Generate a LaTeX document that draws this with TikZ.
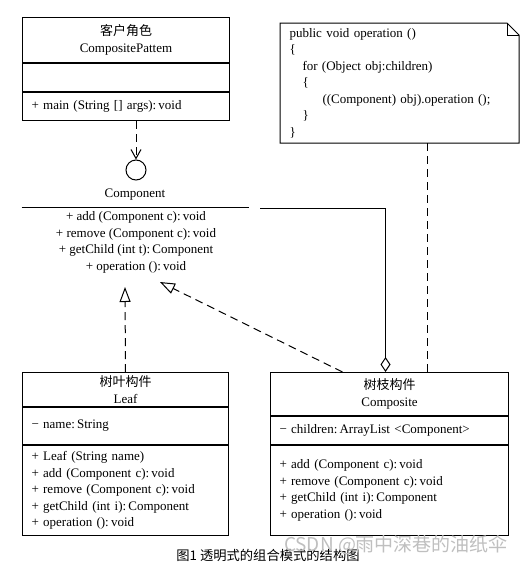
\documentclass[tikz,border=0pt]{standalone}
\usepackage{fontspec}
\setmainfont{Liberation Serif}
\newfontfamily\cjk{Noto Sans CJK SC}
\usetikzlibrary{arrows.meta}

\tikzset{
    umltext/.style={font=\fontsize{13}{16.5}\selectfont},
    headbox/.style={draw, umltext, anchor=north west, align=center, inner sep=0pt},
    listbox/.style={draw, umltext, anchor=north west, align=left, inner xsep=9pt, inner ysep=0pt},
    depend/.style={dash pattern=on 8pt off 5pt, -{Straight Barb[length=9pt,width=10pt]}},
    realize/.style={dash pattern=on 8pt off 5pt, -{Triangle[open,length=15pt,width=11pt]}},
    aggr/.style={-{Diamond[open,length=15pt,width=10pt]}},
    notelink/.style={dash pattern=on 8pt off 5pt}
}

\begin{document}
\begin{tikzpicture}[x=1pt, y=-1pt, line width=1pt]
                \useasboundingbox (0,0) rectangle (529,565);

                % Client class
                \node[headbox, minimum width=207pt, minimum height=45pt] (clienthead) at (22,17) {{\cjk 客户角色}\\CompositePattem};
                \node[listbox, minimum width=207pt, minimum height=28pt, text width=189pt] (clientattr) at (clienthead.south west) {};
                \node[listbox, minimum width=207pt, minimum height=28pt, text width=189pt] (clientops) at (clientattr.south west) {+ main (String [] args):\,void};

                % Component interface
                \node[circle, draw, minimum size=20pt, inner sep=0pt] (iface) at (136,170) {};
                \node[umltext, minimum width=226pt, minimum height=24pt, inner sep=0pt] (compname) at (135,195) {Component};
                \draw (compname.south west) -- (compname.south east);
                \node[umltext, align=center, inner sep=0pt] (compops) at (136,242.5) {+ add (Component c):\,void\\+ remove (Component c):\,void\\+ getChild (int t):\,Component\\+ operation ():\,void};
                \coordinate (leaftip) at (125,287);
                \coordinate (comptip) at (160,282);
                \coordinate (aggstart) at (260,208);

                % Note
                \node[umltext, anchor=north west, align=left, minimum width=238pt, minimum height=119pt, text width=220pt, inner xsep=9pt, inner ysep=0pt] (note) at (280,23)
                    {public void operation ()\\\{\\\hspace*{13pt}for (Object obj:children)\\\hspace*{13pt}\{\\\hspace*{33pt}((Component) obj).operation ();\\\hspace*{13pt}\}\\\}};
                \draw (note.north west) -- ([xshift=-12pt]note.north east) -- ([yshift=-12pt]note.north east) -- (note.south east) -- (note.south west) -- cycle;
                \draw ([xshift=-12pt]note.north east) -- ([xshift=-12pt,yshift=-12pt]note.north east) -- ([yshift=-12pt]note.north east);

                % Leaf class
                \node[headbox, minimum width=206pt, minimum height=34pt] (leafhead) at (22,372) {{\cjk 树叶构件}\\Leaf};
                \node[listbox, minimum width=206pt, minimum height=37pt, text width=188pt] (leafattr) at (leafhead.south west) {− name:\,String};
                \node[listbox, minimum width=206pt, minimum height=90pt, text width=188pt] (leafops) at (leafattr.south west)
                    {+ Leaf (String name)\\+ add (Component c):\,void\\+ remove (Component c):\,void\\+ getChild (int i):\,Component\\+ operation ():\,void};

                % Composite class
                \node[headbox, minimum width=238pt, minimum height=43pt] (compositehead) at (270,372) {{\cjk 树枝构件}\\Composite};
                \node[listbox, minimum width=238pt, minimum height=28pt, text width=220pt] (compositeattr) at (compositehead.south west) {− children:\,ArrayList <Component>};
                \node[listbox, minimum width=238pt, minimum height=90pt, text width=220pt] (compositeops) at (compositeattr.south west)
                    {+ add (Component c):\,void\\+ remove (Component c):\,void\\+ getChild (int i):\,Component\\+ operation ():\,void};

                % Edges
                \draw[depend] (iface |- clientops.south) -- (iface.north);
                \draw[realize] (leafhead.north) -- (leaftip);
                \draw[realize] ([xshift=-47pt]compositehead.north) -- (comptip);
                \draw[aggr] (aggstart) -| ([xshift=-4pt]compositehead.north);
                \draw[notelink] ([xshift=28pt]note.south) -- ([xshift=28pt]note.south |- compositehead.north);

                % Caption
                \node[font=\cjk\fontsize{13.3}{15}\selectfont] (caption) at (268,555) {图1 透明式的组合模式的结构图};
                \node[font=\cjk\fontsize{19}{22}\selectfont, text=black!25] (mark) at (396,545) {CSDN @雨中深巷的油纸伞};
            \end{tikzpicture}
\end{document}
